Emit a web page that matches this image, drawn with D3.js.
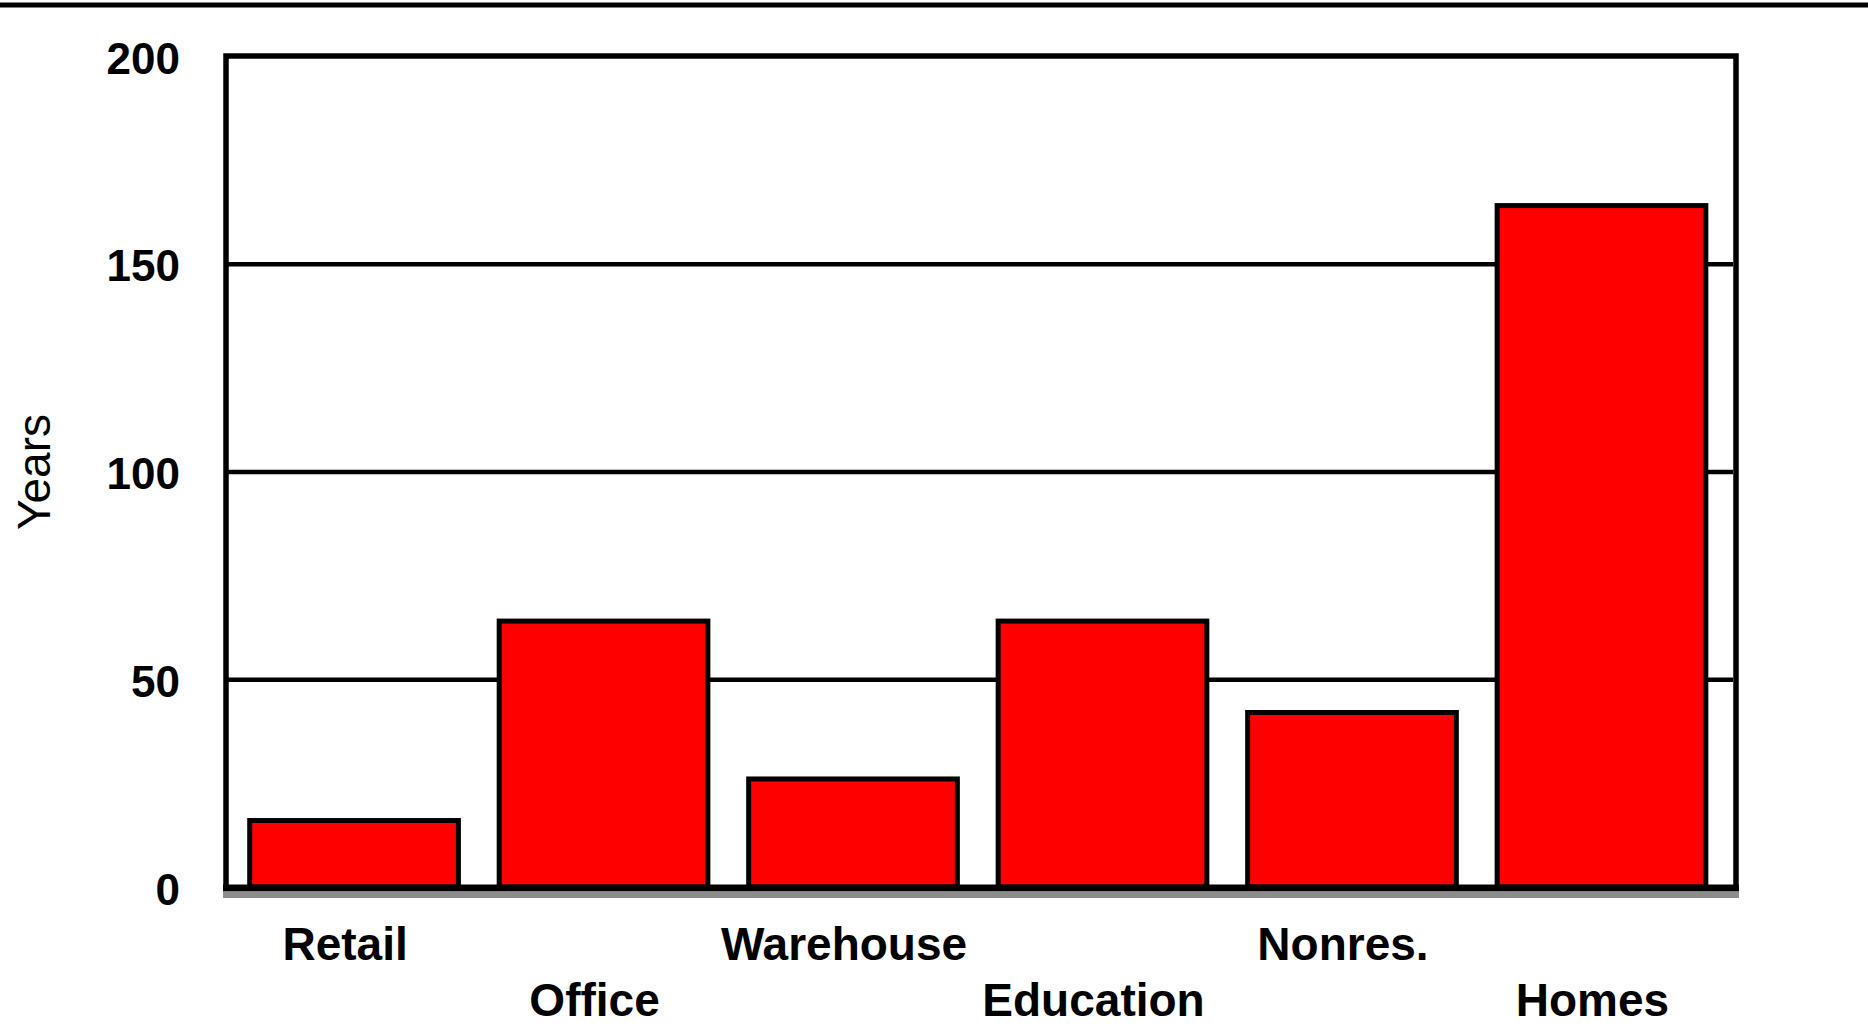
<!DOCTYPE html>
<html>
<head>
<meta charset="utf-8">
<script src="https://cdn.jsdelivr.net/npm/d3@7"></script>
<style>
  body { margin: 0; background: #fff; }
  svg { display: block; font-family: "Liberation Sans", Arial, sans-serif; }
  .grid .tick line { stroke: #000; stroke-width: 4.6; }
  .grid path { stroke-width: 0; }
  .y.axis path, .x.axis path { stroke-width: 0; }
  .y.axis text { font-size: 44px; font-weight: bold; fill: #000; }
  .x.axis text { font-size: 46px; font-weight: bold; fill: #000; }
</style>
</head>
<body>
<script>
var categories = ["Retail", "Office", "Warehouse", "Education", "Nonres.", "Homes"];
var years = [16, 64, 26, 64, 42, 164];
var yTicks = [0, 50, 100, 150, 200];

var W = 1868, H = 1026;
var plot = {left: 226, right: 1736, top: 56, bottom: 887};

var svg = d3.select("body").append("svg")
    .attr("width", W)
    .attr("height", H);

svg.append("rect").attr("width", W).attr("height", H).attr("fill", "#fff");

// rule across the top of the page
svg.append("line")
    .attr("x1", 0).attr("x2", W)
    .attr("y1", 5).attr("y2", 5)
    .attr("stroke", "#000")
    .attr("stroke-width", 5);

var x = d3.scaleBand()
    .domain(categories)
    .range([plot.left, plot.right])
    .paddingInner(0.1635)
    .paddingOuter(0.108)
    .align(0.44);

var y = d3.scaleLinear()
    .domain([0, 200])
    .range([plot.bottom, plot.top]);

// gridlines (inner ones only, frame covers 0 and 200)
svg.append("g")
    .attr("class", "grid")
    .attr("transform", "translate(" + plot.left + ",0)")
    .call(d3.axisLeft(y)
        .tickValues(yTicks.filter(function(d) { return d > 0 && d < 200; }))
        .tickSize(-(plot.right - plot.left - 3))
        .tickFormat(""));

// y tick labels
svg.append("g")
    .attr("class", "y axis")
    .attr("transform", "translate(" + plot.left + ",0)")
    .call(d3.axisLeft(y)
        .tickValues(yTicks)
        .tickSize(0)
        .tickPadding(46)
        .tickFormat(d3.format("d")))
    .selectAll("text")
    .attr("dy", "0.39em");

// bars
svg.selectAll(".bar")
    .data(years)
    .enter()
    .append("rect")
    .attr("class", "bar")
    .attr("x", function(d, i) { return x(categories[i]); })
    .attr("width", x.bandwidth())
    .attr("y", function(d) { return y(d); })
    .attr("height", function(d) { return y(0) - y(d); })
    .attr("fill", "#ff0000")
    .attr("stroke", "#000")
    .attr("stroke-width", 5);

// plot frame
svg.append("path")
    .attr("d", "M" + plot.left + "," + plot.bottom + "V" + plot.top + "H" + plot.right + "V" + plot.bottom)
    .attr("fill", "none")
    .attr("stroke", "#000")
    .attr("stroke-width", 5.5);

// base line with grey shadow
svg.append("line")
    .attr("x1", plot.left - 3).attr("x2", plot.right + 3)
    .attr("y1", y(0) + 1).attr("y2", y(0) + 1)
    .attr("stroke", "#000")
    .attr("stroke-width", 7);
svg.append("line")
    .attr("x1", plot.left - 3).attr("x2", plot.right + 3)
    .attr("y1", y(0) + 8).attr("y2", y(0) + 8)
    .attr("stroke", "#8c8c8c")
    .attr("stroke-width", 6);

// category labels, staggered on two rows
svg.append("g")
    .attr("class", "x axis")
    .attr("transform", "translate(0," + plot.bottom + ")")
    .call(d3.axisBottom(x).tickSize(0))
    .selectAll("text")
    .attr("dy", 0)
    .attr("dx", -9)
    .attr("y", function(d, i) { return i % 2 ? 129 : 73; });

svg.append("text")
    .attr("transform", "translate(50,472) rotate(-90)")
    .attr("text-anchor", "middle")
    .style("font-size", "46px")
    .text("Years");
</script>
</body>
</html>
